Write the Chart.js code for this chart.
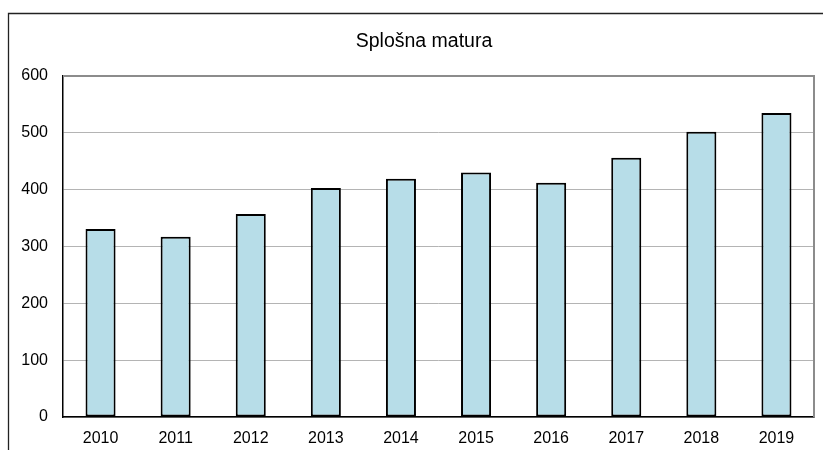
<!DOCTYPE html>
<html>
<head>
<meta charset="utf-8">
<script src="https://cdn.jsdelivr.net/npm/chart.js@4.4.0/dist/chart.umd.min.js"></script>
<style>
  html, body { margin: 0; padding: 0; background: #fff; }
  #wrap { width: 823px; height: 450px; }
</style>
</head>
<body>
<div id="wrap"><canvas id="myChart" width="823" height="450"></canvas></div>
<script>
var leta = ["2010", "2011", "2012", "2013", "2014", "2015", "2016", "2017", "2018", "2019"];
var kandidati = [331, 317, 357, 403, 419, 430, 412, 456, 502, 535];
var naslov = "Splošna matura";

// okvir okoli grafa, naslov in siva obroba zgoraj/desno
const okvir = {
  id: "okvir",
  beforeDraw(chart) {
    const ctx = chart.ctx;
    ctx.save();
    ctx.strokeStyle = "#222";
    ctx.lineWidth = 1.3;
    ctx.beginPath();
    ctx.moveTo(8.5, 460);
    ctx.lineTo(8.5, 13.5);
    ctx.lineTo(830, 13.5);
    ctx.stroke();
    ctx.fillStyle = "#000";
    ctx.font = "19.5px 'Liberation Sans', Arial, sans-serif";
    ctx.textAlign = "center";
    ctx.textBaseline = "middle";
    ctx.fillText(naslov, 424, 42);
    ctx.restore();
  },
  afterDraw(chart) {
    const a = chart.chartArea;
    const ctx = chart.ctx;
    ctx.save();
    ctx.strokeStyle = "#8c8c8c";
    ctx.lineWidth = 2;
    ctx.beginPath();
    ctx.moveTo(a.left, a.top);
    ctx.lineTo(a.right, a.top);
    ctx.lineTo(a.right, a.bottom);
    ctx.stroke();
    ctx.restore();
  }
};

const data = {
  labels: leta,
  datasets: [
    {
      label: naslov,
      data: kandidati,
      backgroundColor: "#b7dde8",
      borderColor: "#000",
      borderWidth: 2,
      borderSkipped: false,
      categoryPercentage: 1,
      barPercentage: 0.4,
    },
  ],
};

const config = {
  type: "bar",
  data,
  options: {
    responsive: false,
    animation: false,
    layout: { padding: { left: 0, right: 9, top: 76, bottom: 0 } },
    plugins: {
      legend: { display: false },
      tooltip: { enabled: false },
      title: { display: false },
    },
    scales: {
      x: {
        grid: { display: false, drawTicks: false },
        border: { color: "#000", width: 1.5 },
        ticks: {
          color: "#000",
          padding: 12,
          font: { family: "Liberation Sans, Arial, sans-serif", size: 16 },
        },
        afterFit(scale) { scale.height = 33; },
      },
      y: {
        min: 0,
        max: 600,
        grid: { color: "#b4b4b4", lineWidth: 1, drawTicks: false },
        border: { color: "#000", width: 1.5 },
        ticks: {
          stepSize: 100,
          color: "#000",
          padding: 15,
          font: { family: "Liberation Sans, Arial, sans-serif", size: 16 },
        },
        afterFit(scale) { scale.width = 63; },
      },
    },
  },
  plugins: [okvir],
};

var myChart = new Chart(document.getElementById("myChart"), config);
</script>
</body>
</html>
